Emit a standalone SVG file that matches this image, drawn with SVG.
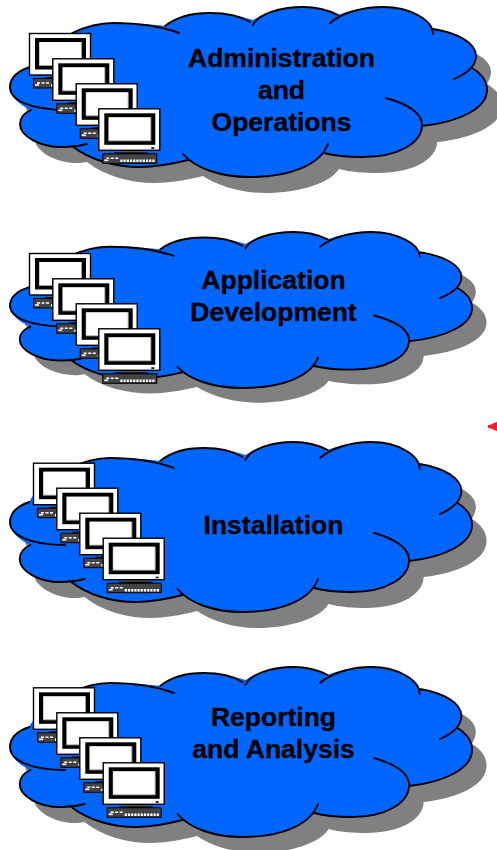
<svg xmlns="http://www.w3.org/2000/svg" xmlns:xlink="http://www.w3.org/1999/xlink" width="497" height="850" viewBox="0 0 497 850">
<style>
.fill{fill:#0066ff;stroke:none}
.shadow{fill:#808080;stroke:none}
.line{fill:none;stroke:#000;stroke-width:1.9;stroke-linecap:round;vector-effect:non-scaling-stroke}
text{font-family:"Liberation Sans",Arial,sans-serif;font-weight:bold;font-size:26.5px;fill:#000;stroke:#000;stroke-width:.35;text-anchor:middle}
</style>
<defs>
<path id="outline" d="M30,67C15,72 10,80 10,87C10,96 18,104 31,110C24,113 20,118 20,124C20,134 40,148 65,147L72,146C90,160 115,167 140,167C155,167 172,164 188,160C205,171 228,177 250,177C285,177 315,167 324,153C335,156 350,157 363,157C398,157 422,143 422,126C460,122 487,108 487,90C487,81 482,74 472,68C474,64 476,60 476,56C476,43 458,33 433,29C425,16 405,7 383,7C366,7 350,10 338,15C328,10 316,7 303,7C285,7 266,12 253,20C240,16 226,13 210,13C190,13 175,18 165,26C150,24 130,23 113,23C100,23 85,27 72,33C55,40 35,55 30,67Z"/>
<g id="arcs" class="line">
<path class="line" d="M30,67C15,72 10,80 10,87C10,100 30,110 67,110"/>
<path class="line" d="M31,110C24,113 20,118 20,124C20,136 40,148 65,147C73,147 80,146 87,144"/>
<path class="line" d="M72,146C90,160 115,167 140,167C155,167 172,164 188,160"/>
<path class="line" d="M183,154C195,168 220,177 250,177C290,177 320,165 328,144"/>
<path class="line" d="M324,153C335,156 350,157 363,157C398,157 422,143 422,125C422,112 407,104 386,98"/>
<path class="line" d="M422,126C460,122 487,108 487,90C487,81 482,74 472,68"/>
<path class="line" d="M454,79C468,73 476,65 476,56C476,43 458,33 433,29"/>
<path class="line" d="M433,34C433,20 410,7 383,7C362,7 342,13 330,23"/>
<path class="line" d="M338,15C328,10 316,7 303,7C280,7 258,14 253,25"/>
<path class="line" d="M165,26C175,18 190,13 210,13C226,13 240,16 250,22"/>
<path class="line" d="M179,33C160,26 140,23 113,23C100,23 85,27 72,33"/>
</g>
<g id="cloud">
<use xlink:href="#outline" href="#outline" class="shadow" transform="translate(15,16)"/>
<use xlink:href="#outline" href="#outline" class="fill"/>
<use xlink:href="#arcs" href="#arcs"/>
</g>
<g id="pc">
<rect x="23" y="42" width="21" height="3" fill="#555"/>
<rect x="16" y="44" width="34" height="1.6" fill="#000"/>
<rect x="4.500" y="45.500" width="54" height="9.500" fill="#444" stroke="#000" stroke-width="1"/>
<path d="M8,50H20" stroke="#fff" stroke-width="1.4" stroke-dasharray="3 1.5" fill="none"/>
<path d="M22,52.500H57" stroke="#fff" stroke-width="2.6" stroke-dasharray="2.2 1" fill="none"/>
<path d="M6,52H10" stroke="#fff" stroke-width="1.6" fill="none"/>
<rect x="0.500" y="0.500" width="61" height="41.500" fill="#fff" stroke="#000" stroke-width="1.4"/>
<rect x="6" y="5" width="51" height="31.500" fill="#000"/>
<rect x="10" y="9" width="43" height="24" fill="#a0a0a0"/>
<rect x="10.500" y="9" width="41.500" height="23" fill="#fff"/>
<rect x="53" y="39" width="3" height="1.600" fill="#000"/>
</g>
</defs>
<g id="connectors"><path d="M488,425L491,424.500L494,423L497,422V431L494,430L491,428.500L488,428Z" fill="#ee2233"/></g>
<g id="node-administration">
<use xlink:href="#cloud" href="#cloud"/>
<use xlink:href="#pc" href="#pc" x="29" y="33"/><use xlink:href="#pc" href="#pc" x="52.300" y="58.300"/><use xlink:href="#pc" href="#pc" x="75.700" y="83.300"/><use xlink:href="#pc" href="#pc" x="98.300" y="108.300"/>
<text x="281.500" y="67">Administration</text><text x="281.500" y="99">and</text><text x="281.500" y="131">Operations</text>
</g>
<g id="node-application">
<use xlink:href="#cloud" href="#cloud" transform="translate(10,232) scale(.9686,.9176) translate(-10,-7)"/>
<use xlink:href="#pc" href="#pc" x="29" y="253"/><use xlink:href="#pc" href="#pc" x="52.300" y="278.300"/><use xlink:href="#pc" href="#pc" x="75.700" y="303.300"/><use xlink:href="#pc" href="#pc" x="98.300" y="328.300"/>
<text x="273.500" y="289">Application</text><text x="273.500" y="321">Development</text>
</g>
<g id="node-installation">
<use xlink:href="#cloud" href="#cloud" transform="translate(10,442) scale(.9686,1) translate(-10,-7)"/>
<use xlink:href="#pc" href="#pc" x="33" y="462.700"/><use xlink:href="#pc" href="#pc" x="56.300" y="487.700"/><use xlink:href="#pc" href="#pc" x="79.300" y="512.700"/><use xlink:href="#pc" href="#pc" x="102.700" y="537.700"/>
<text x="273.500" y="533.500">Installation</text>
</g>
<g id="node-reporting">
<use xlink:href="#cloud" href="#cloud" transform="translate(10,667) scale(.9686,1) translate(-10,-7)"/>
<use xlink:href="#pc" href="#pc" x="33" y="687.300"/><use xlink:href="#pc" href="#pc" x="56.300" y="712.300"/><use xlink:href="#pc" href="#pc" x="79.300" y="737.300"/><use xlink:href="#pc" href="#pc" x="102.700" y="762.300"/>
<text x="273.500" y="726">Reporting</text><text x="273.500" y="757.500">and Analysis</text>
</g>
</svg>
